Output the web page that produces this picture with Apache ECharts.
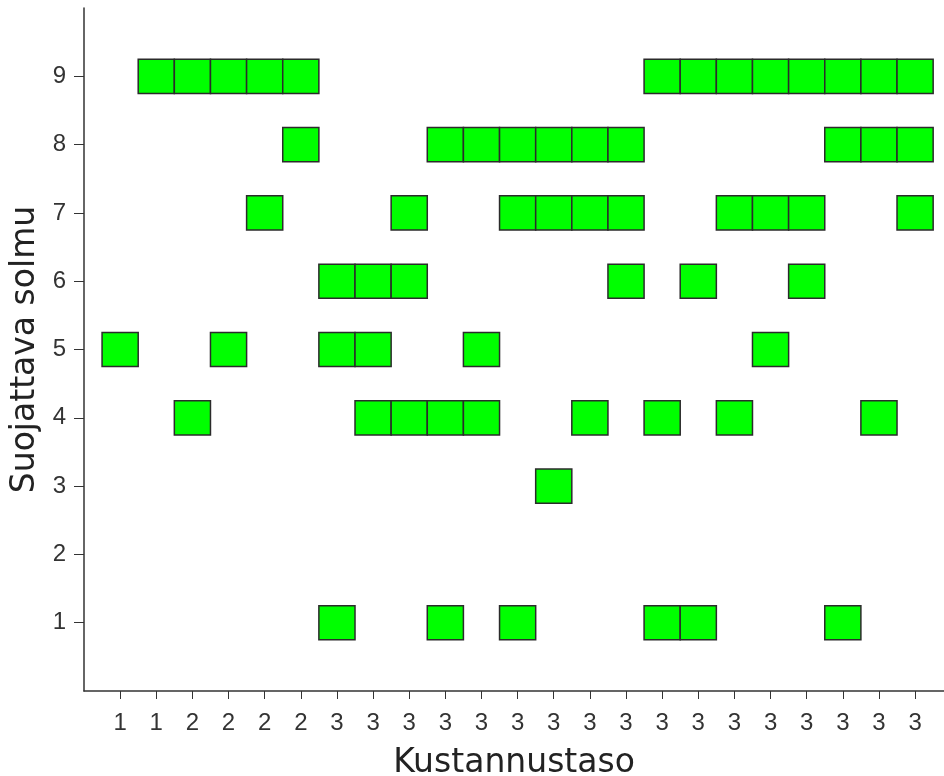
<!DOCTYPE html>
<html>
<head>
<meta charset="utf-8">
<script src="https://cdn.jsdelivr.net/npm/echarts@6/dist/echarts.min.js"></script>
<style>html,body{margin:0;padding:0;background:#fff;}#c{width:944px;height:776px;}</style>
</head>
<body>
<div id="c"></div>
<script>
// x tick labels (cost level) for columns 1..23
const xLabels = ['1','1','2','2','2','2','3','3','3','3','3','3','3','3','3','3','3','3','3','3','3','3','3'];
// y tick values (protected node)
const yTicks = [1,2,3,4,5,6,7,8,9];
// columns (1-based) that have a cell, per node row
const node1 = [7,10,12,16,17,21];
const node2 = [];
const node3 = [13];
const node4 = [3,8,9,10,11,14,16,18,22];
const node5 = [1,4,7,8,11,19];
const node6 = [7,8,9,15,17,20];
const node7 = [5,9,12,13,14,15,18,19,20,23];
const node8 = [6,10,11,12,13,14,15,21,22,23];
const node9 = [2,3,4,5,6,16,17,18,19,20,21,22,23];

const rows = [node1,node2,node3,node4,node5,node6,node7,node8,node9];
const cells = [];
rows.forEach((cols, i) => cols.forEach(c => cells.push([c, i + 1])));
const xTickValues = xLabels.map((_, i) => i + 1);

const chart = echarts.init(document.getElementById('c'));
chart.setOption({
  animation: false,
  backgroundColor: '#ffffff',
  grid: { left: 84, right: 0, top: 8, bottom: 85, containLabel: false, outerBoundsMode: 'none' },
  xAxis: {
    type: 'value', min: 0, max: 23.8,
    name: 'Kustannustaso', nameLocation: 'middle', nameGap: 56,
    nameTextStyle: { fontFamily: 'DejaVu Sans', fontSize: 33, color: '#222' },
    axisLine: { show: true, onZero: false, lineStyle: { color: '#333', width: 1.5 } },
    axisTick: { show: true, length: 8, customValues: xTickValues, lineStyle: { color: '#333', width: 1 } },
    axisLabel: { customValues: xTickValues, margin: 20, fontFamily: 'Liberation Sans', fontSize: 24, color: '#333',
      formatter: v => xLabels[Math.round(v) - 1] || '' },
    splitLine: { show: false }
  },
  yAxis: {
    type: 'value', min: 0, max: 10,
    name: 'Suojattava solmu', nameLocation: 'middle', nameGap: 41,
    nameTextStyle: { fontFamily: 'DejaVu Sans', fontSize: 33, color: '#222' },
    axisLine: { show: true, onZero: false, lineStyle: { color: '#333', width: 1.5 } },
    axisTick: { show: true, length: 10, customValues: yTicks, lineStyle: { color: '#333', width: 1 } },
    axisLabel: { customValues: yTicks, margin: 18, fontFamily: 'Liberation Sans', fontSize: 24, color: '#333' },
    splitLine: { show: false }
  },
  series: [{
    type: 'custom',
    data: cells,
    clip: false,
    renderItem: function (params, api) {
      const c = api.coord([api.value(0), api.value(1)]);
      const s = api.size([1, 0.5]);
      return {
        type: 'rect',
        shape: { x: c[0] - s[0] / 2, y: c[1] - s[1] / 2, width: s[0], height: s[1] },
        style: { fill: '#00ff00', stroke: '#2b2b2b', lineWidth: 1.5 }
      };
    }
  }]
});
</script>
</body>
</html>
